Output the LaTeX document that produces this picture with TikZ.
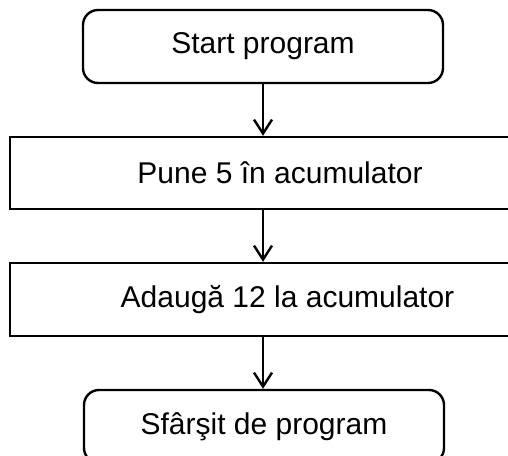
\documentclass[tikz,border=0pt]{standalone}
\usepackage{fontspec}
\setmainfont{Liberation Sans}
\usetikzlibrary{arrows.meta,calc}
\tikzset{
  terminal/.style={draw, line width=2.4pt, rounded corners=15pt,
    minimum width=360pt, minimum height=73pt, inner sep=0pt},
  process/.style={draw, line width=2.4pt,
    minimum height=72pt, inner sep=0pt},
  flow/.style={line width=2pt, -{Straight Barb[length=14pt,width=18pt,line width=2.4pt]}},
  label/.style={font=\fontsize{30}{36}\selectfont}
}
\begin{document}
\begin{tikzpicture}[x=1pt,y=-1pt]
  \clip (0,0) rectangle (508,455);
  \fill[white] (0,0) rectangle (508,455);
  % terminals and process steps
  \node[terminal, label] (start) at (263,46.5) {Start program};
  \node[process, label, minimum width=540pt] (put) at (280,173) {Pune 5 în acumulator};
  \node[process, label, minimum width=555pt, minimum height=73pt] (add) at (287.5,299.5) {Adaugă 12 la acumulator};
  \node[terminal, label] (stop) at (264,426.5) {Sfârşit de program};
  % connectors
  \draw[flow] (start.south) -- (start.south |- put.north);
  \draw[flow] (start.south |- put.south) -- (start.south |- add.north);
  \draw[flow] (start.south |- add.south) -- (start.south |- stop.north);
\end{tikzpicture}
\end{document}
